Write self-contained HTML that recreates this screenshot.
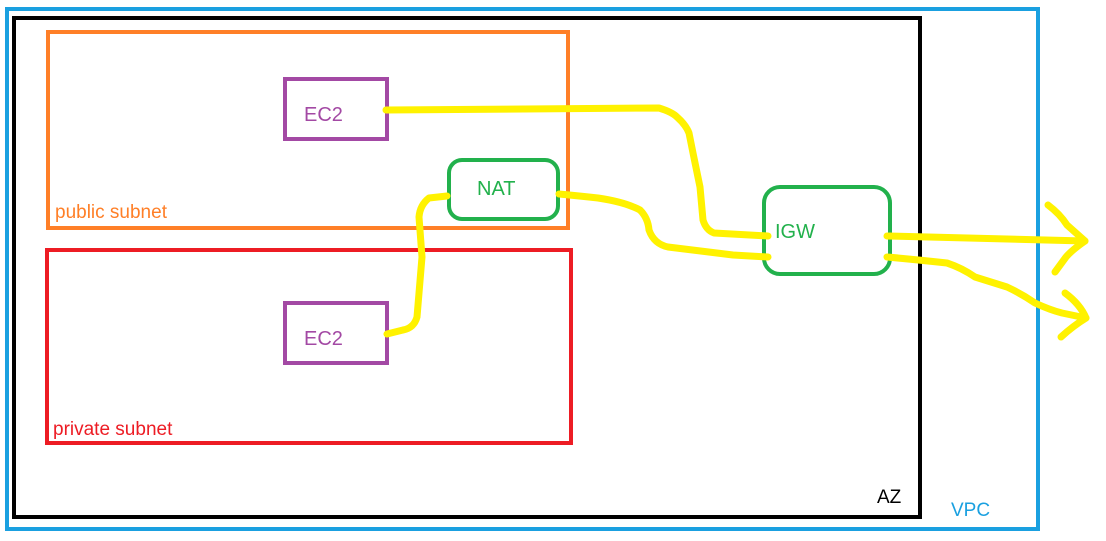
<!DOCTYPE html>
<html><head><style>
body{margin:0;background:#fff;}
svg{display:block;}
text{font-family:"Liberation Sans","DejaVu Sans",sans-serif;}
</style></head><body>
<svg width="1106" height="541" viewBox="0 0 1106 541">
<rect x="7" y="9" width="1031" height="520" fill="none" stroke="#1aa0e0" stroke-width="4"/>
<rect x="14" y="18" width="906" height="499" fill="none" stroke="#000" stroke-width="4"/>
<rect x="48" y="32" width="520" height="196" fill="none" stroke="#ff7f27" stroke-width="4"/>
<rect x="47" y="250" width="524" height="193" fill="none" stroke="#ed1c24" stroke-width="4"/>
<rect x="285" y="79" width="102" height="60" fill="none" stroke="#a349a4" stroke-width="4"/>
<rect x="285" y="303" width="102" height="60" fill="none" stroke="#a349a4" stroke-width="4"/>
<rect x="449" y="160" width="109" height="59" rx="13" fill="none" stroke="#22b14c" stroke-width="4"/>
<rect x="764" y="187" width="126" height="87" rx="16" fill="none" stroke="#22b14c" stroke-width="4"/>
<text x="304" y="121" font-size="20" fill="#a349a4">EC2</text>
<text x="304" y="345" font-size="20" fill="#a349a4">EC2</text>
<text x="477" y="195" font-size="20" fill="#22b14c">NAT</text>
<text x="775" y="238" font-size="20" fill="#22b14c">IGW</text>
<text x="55" y="218" font-size="19" fill="#ff7f27">public subnet</text>
<text x="53" y="435" font-size="19" fill="#ed1c24">private subnet</text>
<text x="877" y="503" font-size="19" fill="#000">AZ</text>
<text x="951" y="516" font-size="19" fill="#1aa0e0">VPC</text>
<g fill="none" stroke="#fff200" stroke-width="7" stroke-linecap="round" stroke-linejoin="round">
<path d="M386 110 L659 108 Q672 112 677 117 Q686 125 689 133 L693 153 L700 187 L703 220 Q706 230 714 233 L768 236"/>
<path d="M559 194 Q580 196 598 198 Q625 202 640 210 Q648 218 649 230 Q654 244 668 247 L733 255 L768 257"/>
<path d="M447 196 L429 198 Q420 205 419 217 L422 257 L417 317 Q414 328 403 330 L387 334"/>
<path d="M887 236 L1085 241"/>
<path d="M1048 205 Q1060 214 1067 225 L1085 241 Q1072 250 1066 257 L1055 272"/>
<path d="M887 257 Q920 260 947 263 Q962 268 975 277 L1007 287 Q1022 294 1035 303 Q1050 310 1062 313 L1086 318"/>
<path d="M1065 293 Q1080 304 1086 318 Q1073 326 1061 337"/>
</g>
</svg>
</body></html>
